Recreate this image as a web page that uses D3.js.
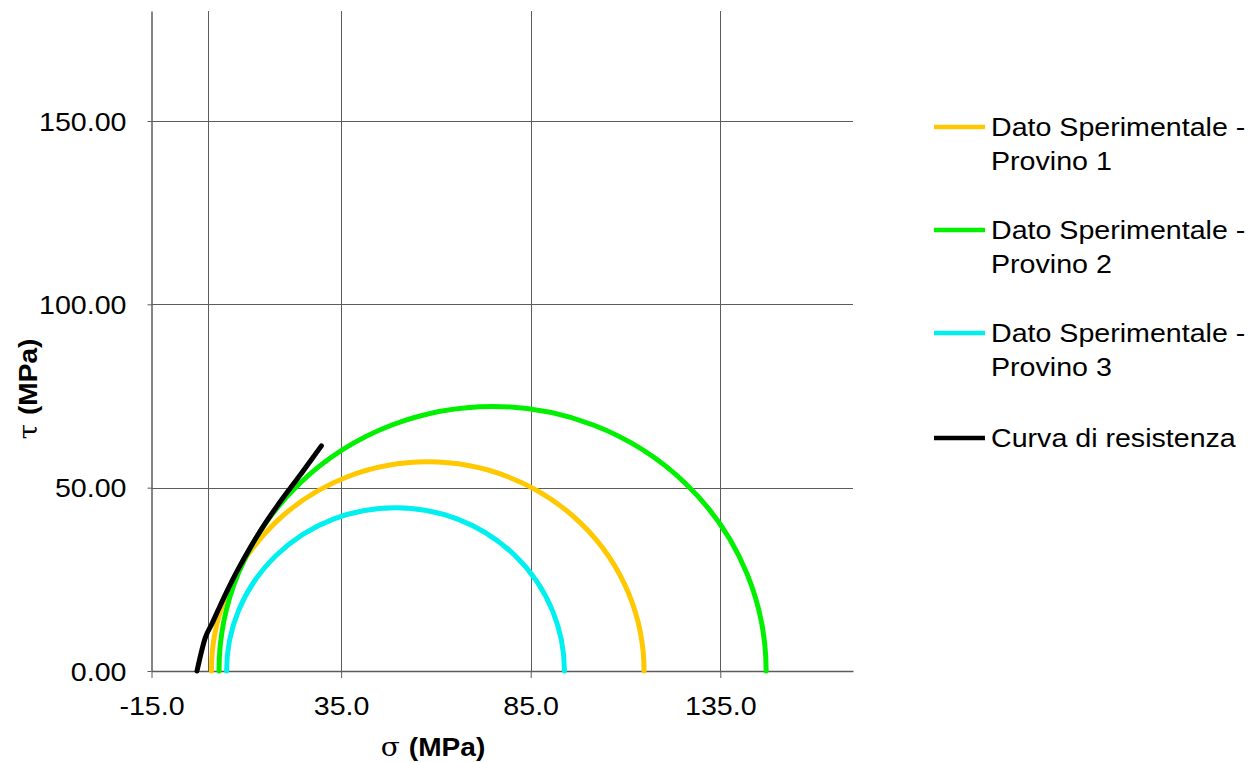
<!DOCTYPE html>
<html>
<head>
<meta charset="utf-8">
<script src="https://cdn.jsdelivr.net/npm/d3@7"></script>
<style>
  body { margin: 0; background: #fff; }
  svg { display: block; }
  text { font-family: "Liberation Sans", Arial, Helvetica, sans-serif; fill: #000; }
</style>
</head>
<body>
<svg id="chart" width="1249" height="762"></svg>
<script>
// ---- data ----
const xTicks = [-15, 35, 85, 135];
const yTicks = [0, 50, 100, 150];
const circleNames = ["Dato Sperimentale - Provino 1", "Dato Sperimentale - Provino 2", "Dato Sperimentale - Provino 3"];
const circleColors = ["#FFC800", "#00F000", "#00F0F0"];
const sigma3 = [0.8, 2.8, 4.8];      // MPa, left end of each Mohr circle
const sigma1 = [114.9, 147.1, 93.9]; // MPa, right end of each Mohr circle
const envelopeSigma = [-3.0, -0.8, 0.9, 3.1, 5.3, 7.6, 10.0, 12.5, 15.2, 18.2, 21.4, 24.4, 27.2, 29.8];
const envelopeTau   = [0.0, 9.1, 12.8, 17.8, 22.6, 27.3, 31.8, 36.2, 40.6, 45.1, 49.6, 53.7, 57.7, 61.4];
const envelopeName = "Curva di resistenza";
const envelopeColor = "#000000";

// ---- scales ----
const svg = d3.select("#chart");
const x = d3.scaleLinear().domain([-15, 170]).range([151.5, 853]);
const y = d3.scaleLinear().domain([0, 180]).range([671, 11]);
const gridColor = "#5c5c5c";
const fs = 26;
const sx = 1.1; // horizontal stretch of the text glyphs in the reference

// grid lines
const g = svg.append("g");
g.selectAll("line.hgrid").data(yTicks.filter(d => d !== 0)).join("line")
  .attr("x1", x(-15)).attr("x2", x(170))
  .attr("y1", d => Math.round(y(d)) + 0.5).attr("y2", d => Math.round(y(d)) + 0.5)
  .attr("stroke", gridColor).attr("stroke-width", 1);
g.selectAll("line.vgrid").data(xTicks.filter(d => d !== -15)).join("line")
  .attr("x1", d => Math.round(x(d)) + 0.5).attr("x2", d => Math.round(x(d)) + 0.5)
  .attr("y1", y(0)).attr("y2", y(180))
  .attr("stroke", gridColor).attr("stroke-width", 1);
// vertical line at sigma = 0
g.append("line").attr("x1", Math.round(x(0)) + 0.5).attr("x2", Math.round(x(0)) + 0.5).attr("y1", y(0)).attr("y2", y(180))
  .attr("stroke", gridColor).attr("stroke-width", 1);

// axes
const fmtX = d => d3.format(".1f")(d).replace("\u2212", "-");
const fmtY = d => d3.format(".2f")(d).replace("\u2212", "-");
const xAxis = d3.axisBottom(x).tickValues(xTicks).tickFormat(fmtX).tickSize(7).tickSizeOuter(0);
const yAxis = d3.axisLeft(y).tickValues(yTicks).tickFormat(fmtY).tickSize(4).tickSizeOuter(0);
const gx = svg.append("g").attr("transform", `translate(0,${y(0)})`).call(xAxis);
const gy = svg.append("g").attr("transform", `translate(${x(-15)},0)`).call(yAxis);
[gx, gy].forEach(a => {
  a.select(".domain").attr("stroke", gridColor).attr("stroke-width", 1.5);
  a.selectAll(".tick line").attr("stroke", gridColor).attr("stroke-width", 1);
  a.selectAll(".tick text").attr("font-size", fs).attr("font-family", "Liberation Sans, Arial, sans-serif").attr("fill", "#000");
});
gx.selectAll(".tick text").attr("dy", null).attr("y", 0).attr("transform", `translate(0,44) scale(${sx},1)`);
gy.selectAll(".tick text").attr("x", 0).attr("dy", "0.35em").attr("transform", `translate(-25,0) scale(${sx},1)`);

// Mohr circles (semicircles drawn as elliptical arcs in pixel space)
const circles = sigma3.map((s3, i) => ({ s3, s1: sigma1[i], color: circleColors[i] }));
svg.append("g").selectAll("path").data(circles).join("path")
  .attr("d", d => {
    const c = (d.s1 + d.s3) / 2, r = (d.s1 - d.s3) / 2;
    const rx = x(c + r) - x(c), ry = y(0) - y(r);
    return `M${x(d.s3)},${y(0)} A${rx},${ry} 0 0 1 ${x(d.s1)},${y(0)}`;
  })
  .attr("fill", "none").attr("stroke", d => d.color).attr("stroke-width", 5)
  .attr("stroke-linecap", "round");

// strength envelope
const env = envelopeSigma.map((s, i) => [s, envelopeTau[i]]);
svg.append("path").datum(env)
  .attr("d", d3.line().x(d => x(d[0])).y(d => y(d[1])).curve(d3.curveMonotoneX))
  .attr("fill", "none").attr("stroke", envelopeColor).attr("stroke-width", 5)
  .attr("stroke-linecap", "round").attr("stroke-linejoin", "round");

// axis titles
const xt = svg.append("text").attr("transform", "translate(433,756) scale(1.08,1)").attr("text-anchor", "middle").attr("font-size", fs);
xt.append("tspan").attr("font-family", "DejaVu Serif, serif").text("σ ");
xt.append("tspan").attr("font-weight", "bold").text("(MPa)");
const yt = svg.append("text").attr("transform", "translate(37,389) rotate(-90) scale(1.08,1)").attr("text-anchor", "middle").attr("font-size", fs);
yt.append("tspan").attr("font-family", "DejaVu Serif, serif").text("τ ");
yt.append("tspan").attr("font-weight", "bold").text("(MPa)");

// legend
const legend = [
  { lines: ["Dato Sperimentale -", "Provino 1"], color: circleColors[0] },
  { lines: ["Dato Sperimentale -", "Provino 2"], color: circleColors[1] },
  { lines: ["Dato Sperimentale -", "Provino 3"], color: circleColors[2] },
  { lines: [envelopeName], color: envelopeColor }
];
const lyTop = [127, 230, 333, 438];
const lg = svg.append("g").selectAll("g").data(legend).join("g")
  .attr("transform", (d, i) => `translate(0,${lyTop[i]})`);
lg.append("line").attr("x1", 934).attr("x2", 985).attr("y1", 0).attr("y2", 0)
  .attr("stroke", d => d.color).attr("stroke-width", 4.5);
lg.each(function(d) {
  const t = d3.select(this).append("text").attr("transform", `translate(991,9) scale(${sx},1)`).attr("font-size", fs);
  d.lines.forEach((l, j) => t.append("tspan").attr("x", 0).attr("y", j * 34).text(l));
});
</script>
</body>
</html>
